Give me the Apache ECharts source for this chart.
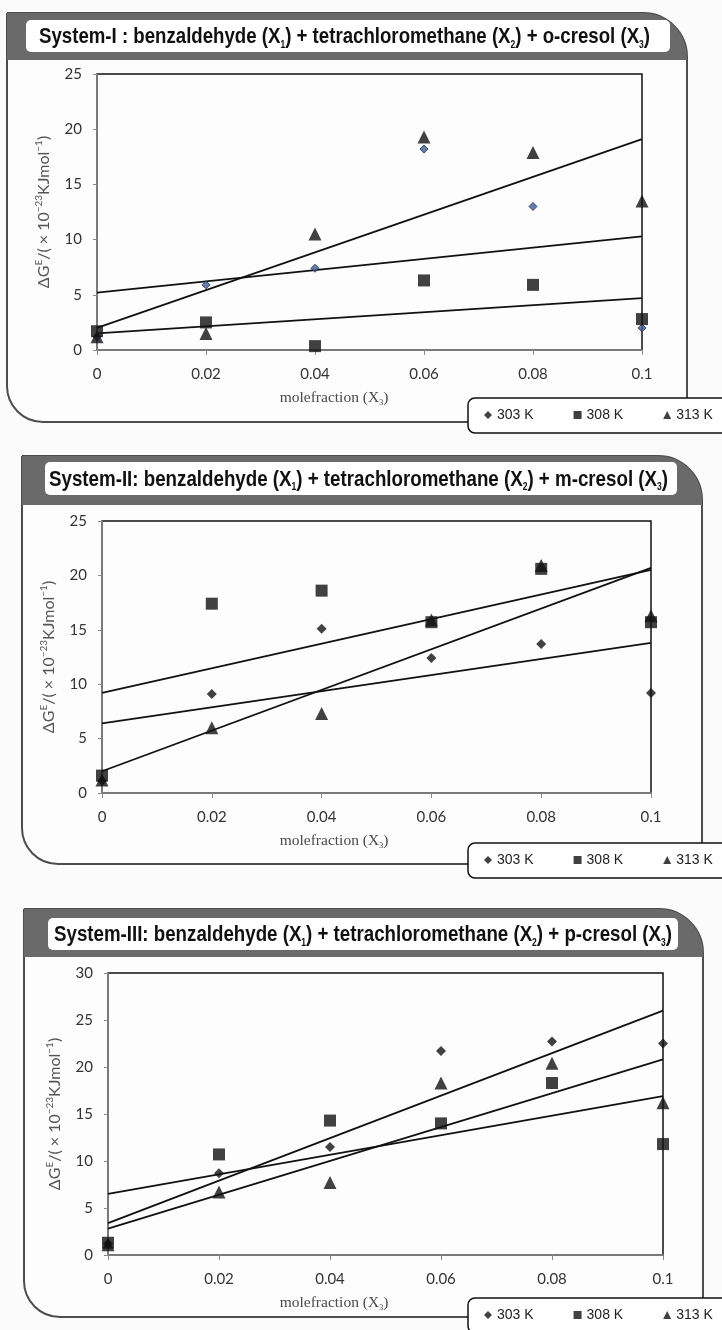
<!DOCTYPE html>
<html>
<head>
<meta charset="utf-8">
<script src="https://cdn.jsdelivr.net/npm/echarts@6/dist/echarts.min.js"></script>
<style>
  html, body { margin: 0; padding: 0; background: #fbfbfb; }
  #main { width: 722px; height: 1330px; }
</style>
</head>
<body>
<div id="main"></div>
<script>
  // mole fraction of cresol (X3)
  const xVals = [0, 0.02, 0.04, 0.06, 0.08, 0.1];
  const fitX = [0, 0.1];

  // System-I : o-cresol
  const s1_303 = [1.2, 5.9, 7.4, 18.2, 13.0, 2.0];
  const s1_308 = [1.7, 2.5, 0.35, 6.3, 5.9, 2.8];
  const s1_313 = [1.2, 1.5, 10.5, 19.3, 17.9, 13.5];
  const s1_fit303 = [5.2, 10.3];
  const s1_fit308 = [1.5, 4.7];
  const s1_fit313 = [2.0, 19.1];

  // System-II : m-cresol
  const s2_303 = [1.1, 9.1, 15.1, 12.4, 13.7, 9.2];
  const s2_308 = [1.6, 17.4, 18.6, 15.7, 20.6, 15.7];
  const s2_313 = [1.2, 6.0, 7.3, 15.9, 20.9, 16.3];
  const s2_fit303 = [6.4, 13.8];
  const s2_fit308 = [9.2, 20.5];
  const s2_fit313 = [2.0, 20.7];

  // System-III : p-cresol
  const s3_303 = [1.2, 8.7, 11.5, 21.7, 22.7, 22.5];
  const s3_308 = [1.3, 10.7, 14.3, 14.0, 18.3, 11.8];
  const s3_313 = [1.1, 6.7, 7.7, 18.3, 20.4, 16.2];
  const s3_fit303 = [3.4, 26.0];
  const s3_fit308 = [6.5, 16.9];
  const s3_fit313 = [2.8, 20.8];

  const yMax = [25, 25, 30];
  const legendNames = ["303 K", "308 K", "313 K"];

  const titles = [
    "System-I : benzaldehyde (X{s|1}) + tetrachloromethane (X{s|2}) + o-cresol (X{s|3})",
    "System-II: benzaldehyde (X{s|1}) + tetrachloromethane (X{s|2}) + m-cresol (X{s|3})",
    "System-III: benzaldehyde (X{s|1}) + tetrachloromethane (X{s|2}) + p-cresol (X{s|3})",
  ];

  const TITLE_FONT = "'Liberation Sans', Arial, sans-serif";
  const TITLE_SIZE = 22;
  const SUB_SIZE = 10;

  // width of a rich title string, so it can be squeezed like a condensed face
  const ctx = document.createElement("canvas").getContext("2d");
  function titleWidth(str) {
    let w = 0;
    str.split(/(\{s\|[^}]*\})/).forEach(part => {
      const m = part.match(/^\{s\|([^}]*)\}$/);
      if (m) {
        ctx.font = "bold " + SUB_SIZE + "px " + TITLE_FONT;
        w += ctx.measureText(m[1]).width;
      } else if (part) {
        ctx.font = "bold " + TITLE_SIZE + "px " + TITLE_FONT;
        w += ctx.measureText(part).width;
      }
    });
    return w;
  }

  var dom = document.getElementById("main");
  var myChart = echarts.init(dom, null, { renderer: "canvas" });

  const panels = [
    { fx: 7, fy: 13, fw: 680, fh: 409, band: 47, tb: [26, 20, 644, 32], tx: 39, tw: 611, grid: { left: 97, top: 74, width: 545, height: 276 }, legendTop: 398, nameY: 398 },
    { fx: 22, fy: 456, fw: 680, fh: 408, band: 49, tb: [45, 462, 632, 33], tx: 49, tw: 619, grid: { left: 102, top: 521, width: 549, height: 272 }, legendTop: 843, nameY: 841 },
    { fx: 24, fy: 909, fw: 679, fh: 408, band: 48, tb: [48, 918, 630, 32], tx: 54, tw: 618, grid: { left: 108, top: 973, width: 555, height: 282 }, legendTop: 1298, nameY: 1303 },
  ];

  const graphics = [];
  panels.forEach((p, i) => {
    graphics.push({
      type: "rect", z: -20,
      shape: { x: p.fx, y: p.fy, width: p.fw, height: p.fh, r: [0, 44, 0, 36] },
      style: { fill: "#fdfdfd", stroke: "#4d4d4d", lineWidth: 2 },
    });
    graphics.push({
      type: "rect", z: -19,
      shape: { x: p.fx, y: p.fy, width: p.fw, height: p.band, r: [0, 44, 0, 0] },
      style: { fill: "#6a6a6a" },
    });
    graphics.push({
      type: "rect", z: -18,
      shape: { x: p.tb[0], y: p.tb[1], width: p.tb[2], height: p.tb[3], r: 5 },
      style: { fill: "#ffffff" },
    });
    graphics.push({
      type: "text", z: -17,
      x: p.tx, y: p.tb[1] + p.tb[3] / 2 + 1,
      scaleX: p.tw / titleWidth(titles[i]),
      style: {
        text: titles[i],
        fontFamily: TITLE_FONT,
        fontWeight: "bold",
        fontSize: TITLE_SIZE,
        lineHeight: 26,
        fill: "#111",
        verticalAlign: "middle",
        rich: {
          s: {
            fontFamily: TITLE_FONT, fontWeight: "bold", fontSize: SUB_SIZE, lineHeight: 11,
            verticalAlign: "bottom", fill: "#111",
          },
        },
      },
    });
    graphics.push({
      type: "text", z: 5,
      x: 334, y: p.nameY,
      style: {
        text: "molefraction (X{s|3})",
        fontFamily: "'Liberation Serif', serif",
        fontSize: 15.5, lineHeight: 18,
        fill: "#4a4a4a",
        align: "center", verticalAlign: "middle",
        rich: {
          s: { fontFamily: "'Liberation Serif', serif", fontSize: 8, lineHeight: 9, verticalAlign: "bottom", fill: "#4a4a4a" },
        },
      },
    });
    // legend box, running off the right edge as in the original
    graphics.push({
      type: "rect", z: -5,
      shape: { x: 468, y: p.legendTop, width: 280, height: 35, r: 7 },
      style: { fill: "#ffffff", stroke: "#111", lineWidth: 1.5 },
    });
  });

  const sets = [
    [s1_303, s1_308, s1_313, s1_fit303, s1_fit308, s1_fit313],
    [s2_303, s2_308, s2_313, s2_fit303, s2_fit308, s2_fit313],
    [s3_303, s3_308, s3_313, s3_fit303, s3_fit308, s3_fit313],
  ];

  const grids = [], xAxes = [], yAxes = [], series = [], legends = [];
  panels.forEach((p, i) => {
    grids.push(Object.assign({ show: true, borderColor: "#111", borderWidth: 1.5, backgroundColor: "#fdfdfd" }, p.grid));
    xAxes.push({
      gridIndex: i, type: "value", min: 0, max: 0.1, interval: 0.02, z: 3,
      axisLine: { show: true, lineStyle: { color: "#8a8a8a", width: 1.5 } },
      axisTick: { show: true, length: 5, lineStyle: { color: "#8a8a8a" } },
      axisLabel: { margin: 17, fontFamily: "Lato", fontSize: 15, color: "#333" },
      splitLine: { show: false },
    });
    yAxes.push({
      gridIndex: i, type: "value", min: 0, max: yMax[i], interval: 5, z: 3,
      name: "ΔG{sup|E}/( × 10{sup|−23}KJmol{sup|−1})",
      nameLocation: "middle", nameRotate: 90, nameGap: 41,
      nameTextStyle: {
        fontFamily: "Lato", fontSize: 16, color: "#555", lineHeight: 20,
        rich: { sup: { fontFamily: "Lato", fontSize: 10, lineHeight: 10, verticalAlign: "top", color: "#555" } },
      },
      axisLine: { show: true, lineStyle: { color: "#8a8a8a", width: 1.5 } },
      axisTick: { show: true, length: 4, lineStyle: { color: "#8a8a8a" } },
      axisLabel: { margin: 15, fontFamily: "Lato", fontSize: 15, color: "#333" },
      splitLine: { show: false },
    });

    const d = sets[i];
    const diamondStyle = i === 0
      ? { color: "#3d5c94", borderColor: "#1b2a4d", borderWidth: 1 }
      : { color: "#111" };
    series.push({
      name: "303 K", type: "scatter", xAxisIndex: i, yAxisIndex: i, z: 4,
      symbol: "diamond", symbolSize: i === 0 ? 8 : 10, itemStyle: diamondStyle,
      data: xVals.map((x, k) => [x, d[0][k]]),
    });
    series.push({
      name: "308 K", type: "scatter", xAxisIndex: i, yAxisIndex: i, z: 4,
      symbol: "rect", symbolSize: 12, itemStyle: { color: "#111" },
      data: xVals.map((x, k) => [x, d[1][k]]),
    });
    series.push({
      name: "313 K", type: "scatter", xAxisIndex: i, yAxisIndex: i, z: 4,
      symbol: "triangle", symbolSize: 13, itemStyle: { color: "#111" },
      data: xVals.map((x, k) => [x, d[2][k]]),
    });
    for (let k = 3; k < 6; k++) {
      series.push({
        type: "line", xAxisIndex: i, yAxisIndex: i, z: 3, silent: true,
        symbol: "none", lineStyle: { color: "#111", width: 1.8 },
        data: fitX.map((x, m) => [x, d[k][m]]),
      });
    }

    legends.push({
      left: 484, top: p.legendTop + 10, orient: "horizontal",
      padding: 0, itemGap: 40, itemWidth: 8, itemHeight: 8,
      textStyle: { fontFamily: "'Liberation Sans', sans-serif", fontSize: 14, color: "#222" },
      data: [
        { name: legendNames[0], icon: "diamond", itemStyle: { color: "#111", borderWidth: 0 } },
        { name: legendNames[1], icon: "rect", itemStyle: { color: "#111" } },
        { name: legendNames[2], icon: "triangle", itemStyle: { color: "#111" } },
      ],
    });
  });

  var option = {
    backgroundColor: "#fbfbfb",
    animation: false,
    graphic: graphics,
    legend: legends,
    grid: grids,
    xAxis: xAxes,
    yAxis: yAxes,
    series: series,
  };

  if (option && typeof option === "object") {
    myChart.setOption(option);
  }

  window.addEventListener("resize", myChart.resize);
</script>
</body>
</html>
